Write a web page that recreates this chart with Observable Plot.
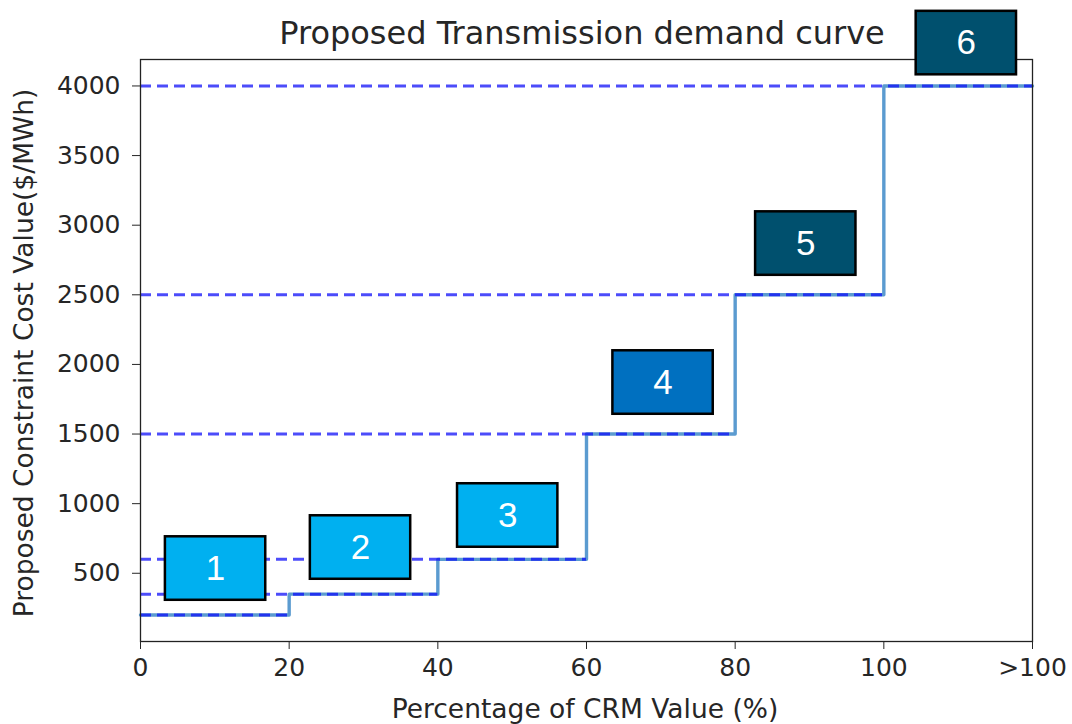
<!DOCTYPE html>
<html><head><meta charset="utf-8">
<script src="https://cdn.jsdelivr.net/npm/d3@7"></script>
<script src="https://cdn.jsdelivr.net/npm/@observablehq/plot@0.6"></script>
<style>
body{margin:0;background:#fff;}
#chart{position:relative;width:1072px;height:724px;}
</style></head>
<body><div id="chart"></div>
<script>
// Step demand curve
const stepStarts = [0, 20, 40, 60, 80, 100];
const stepEnds = [20, 40, 60, 80, 100, 120];
const stepValues = [200, 350, 600, 1500, 2500, 4000];
// tick labels
const xTicks = [0, 20, 40, 60, 80, 100, 120];
const xTickLabels = ["0", "20", "40", "60", "80", "100", ">100"];
const yTicks = [500, 1000, 1500, 2000, 2500, 3000, 3500, 4000];
// numbered annotation boxes
const boxLabels = ["1", "2", "3", "4", "5", "6"];
const boxX = [10.1, 29.6, 49.4, 70.3, 89.5, 111.1];
const boxY = [534, 685, 915, 1870, 2868, 4308];
const boxColors = ["#00B0F0", "#00B0F0", "#00B0F0", "#0070C0", "#00506E", "#00506E"];

const linePts = stepStarts.map((x, i) => ({x, y: stepValues[i]}));
linePts.push({x: stepEnds[stepEnds.length - 1], y: stepValues[stepValues.length - 1]});
const levels = stepValues.map((v, i) => ({y: v, x1: 0, x2: stepEnds[i]}));
const boxHalfW = 6.75, boxHalfH = 228;
const boxes = boxLabels.map((l, i) => ({label: l, x: boxX[i], y: boxY[i], x1: boxX[i] - boxHalfW, x2: boxX[i] + boxHalfW, y1: boxY[i] - boxHalfH, y2: boxY[i] + boxHalfH, fill: boxColors[i]}));
const xFmt = (d) => xTickLabels[xTicks.indexOf(d)];

const plot = Plot.plot({
  width: 1072, height: 724,
  marginLeft: 140, marginRight: 40, marginTop: 59, marginBottom: 83,
  style: {fontFamily: "DejaVu Sans", overflow: "visible", background: "#fff"},
  x: {domain: [0, 120], label: null, ticks: xTicks, tickFormat: xFmt},
  y: {domain: [10, 4190], label: null, ticks: yTicks, tickFormat: d3.format("d")},
  marks: [
    Plot.line(linePts, {x: "x", y: "y", curve: "step-after", stroke: "#5B9BD0", strokeWidth: 3.4}),
    Plot.ruleY(levels, {y: "y", x1: "x1", x2: "x2", stroke: "#1010F8", strokeOpacity: 0.75, strokeWidth: 3, strokeDasharray: "11,6"}),
    Plot.frame({stroke: "#222", strokeWidth: 1.3}),
    Plot.axisX({ticks: xTicks, tickFormat: xFmt, tickSize: 8, fontSize: 25, tickPadding: 9, color: "#262626", label: null}),
    Plot.axisY({ticks: yTicks, tickFormat: d3.format("d"), tickSize: 8, fontSize: 25, tickPadding: 12, color: "#262626", label: null}),
    Plot.rect(boxes, {x1: "x1", x2: "x2", y1: "y1", y2: "y2", fill: "fill", stroke: "#000", strokeWidth: 2.5}),
    Plot.text(boxes, {x: "x", y: "y", text: "label", fill: "#fff", fontSize: 35, fontFamily: "Liberation Sans"})
  ]
});
document.getElementById("chart").appendChild(plot);
const svg = d3.select(plot);
svg.append("text").attr("x", 582).attr("y", 44).attr("text-anchor", "middle")
  .attr("font-family", "DejaVu Sans").attr("font-size", 32).attr("fill", "#262626").text("Proposed Transmission demand curve");
svg.append("text").attr("x", 585).attr("y", 718).attr("text-anchor", "middle")
  .attr("font-family", "DejaVu Sans").attr("font-size", 26.5).attr("fill", "#262626").text("Percentage of CRM Value (%)");
svg.append("text").attr("transform", "translate(33,353) rotate(-90)").attr("text-anchor", "middle")
  .attr("font-family", "DejaVu Sans").attr("font-size", 26.5).attr("fill", "#262626").text("Proposed Constraint Cost Value($/MWh)");
</script></body></html>
